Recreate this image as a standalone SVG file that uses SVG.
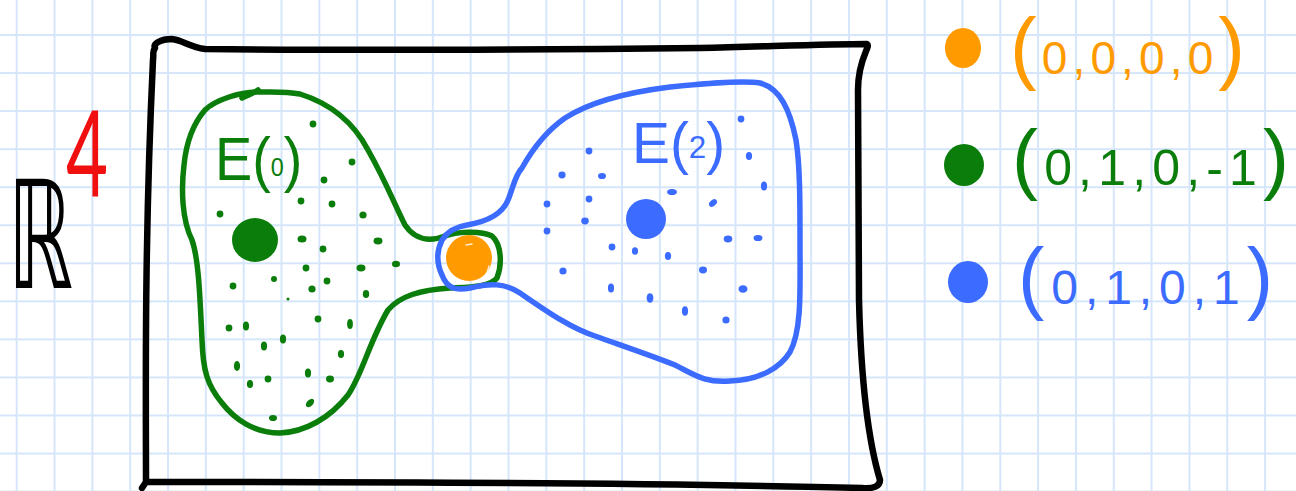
<svg xmlns="http://www.w3.org/2000/svg" width="1296" height="491" viewBox="0 0 1296 491">
<defs>
<pattern id="grid" patternUnits="userSpaceOnUse" x="15.7" y="34" width="37.83" height="38.05">
<rect x="0" y="0" width="2" height="38.05" fill="#d6e6fa"/>
<rect x="0" y="0" width="37.83" height="2" fill="#d6e6fa"/>
</pattern>
</defs>
<style>
.ink{fill:none;stroke-linecap:round;stroke-linejoin:round}
.blk{stroke:#000;stroke-width:6.5}
.grn{stroke:#0b7d0b;stroke-width:5.5}
.blu{stroke:#3b6bff;stroke-width:5.5}
.gd{fill:#0b7d0b}
.bd{fill:#3b6bff}
.hand{font-family:"Liberation Sans","DejaVu Sans",sans-serif}
</style>
<rect width="1296" height="491" fill="#fff"/>
<rect width="1296" height="491" fill="url(#grid)"/>

<g id="frame">
<path class="ink blk" d="M155,48 C153,44 160,39 172,39 C182,40 190,47 205,49 C300,50 500,50 700,48 C780,46 830,44 867,44 C871,47 858,58 858,90 L859,300 C861,380 868,440 880,480 C880,486 874,489 862,488 C700,484 400,482 146,482 C146,400 144,250 153,60 C154,52 152,52 155,48 Z M146,482 L142,488"/>
</g>

<g id="region-E0">
<path class="ink grn" d="M257,92 C240,92 215,100 205,110 C192,125 186,145 184,165 C181,190 182,220 192,240 C199,260 200,300 202,340 C203,370 207,385 222,403 C235,420 255,433 280,433 C305,432 330,418 348,395 C362,375 370,340 388,310 C400,296 420,290 450,288 C470,287 490,287 497,278 C502,265 502,245 492,236 C480,230 455,232 445,236 C430,242 415,240 405,225 C395,205 385,180 368,150 C355,125 335,105 300,94 C285,91 270,92 257,92"/>
<path class="ink grn" d="M242,98 C248,95 254,93 258,90"/>
<ellipse class="gd" cx="255" cy="240" rx="23" ry="22"/>
<g class="gd">
<circle cx="313" cy="124" r="3.4"/><circle cx="352" cy="162" r="3.4"/><circle cx="324" cy="180" r="3.4"/>
<circle cx="301" cy="201" r="3.4"/><circle cx="332" cy="204" r="3.4"/><circle cx="363" cy="215" r="3.6"/>
<circle cx="220" cy="214" r="3.4"/><ellipse cx="302" cy="239" rx="4.5" ry="3.6"/><ellipse cx="378" cy="241" rx="4.5" ry="3.4"/>
<circle cx="323" cy="249" r="3.4"/><circle cx="306" cy="268" r="3.4"/><ellipse cx="361" cy="268" rx="4.5" ry="3.4"/>
<ellipse cx="396" cy="264" rx="4" ry="3.2"/><circle cx="274" cy="279" r="3"/><circle cx="233" cy="286" r="3.4"/>
<circle cx="327" cy="281" r="3.4"/><circle cx="312" cy="289" r="3.6"/><ellipse cx="366" cy="294" rx="3.2" ry="4"/>
<circle cx="288" cy="299" r="1.5"/><circle cx="318" cy="319" r="3.4"/><ellipse cx="350" cy="324" rx="2.9" ry="5"/>
<circle cx="229" cy="328" r="3.4"/><ellipse cx="246" cy="326" rx="3.1" ry="4.5"/><ellipse cx="283" cy="339" rx="3.1" ry="4.5"/>
<ellipse cx="264" cy="346" rx="3.1" ry="4.5"/><ellipse cx="341" cy="354" rx="3.1" ry="4"/><ellipse cx="237" cy="366" rx="3.1" ry="5"/>
<ellipse cx="308" cy="373" rx="3.1" ry="4.5"/><ellipse cx="330" cy="379" rx="4" ry="3.4"/><ellipse cx="250" cy="384" rx="3.1" ry="4"/>
<circle cx="268" cy="379" r="3.4"/><ellipse cx="310" cy="403" rx="3.1" ry="5" transform="rotate(45 310 403)"/><ellipse cx="273" cy="418" rx="4" ry="3.1"/>
</g>
<text class="hand" transform="translate(215,180) scale(0.9,1)" fill="#0b7d0b"><tspan font-size="62">E(</tspan><tspan font-size="26" dy="-4">0</tspan><tspan font-size="62" dy="4">)</tspan></text>
</g>

<g id="region-E2">
<path class="ink blu" d="M467,225 C485,222 502,215 508,200 C513,188 515,175 522,168 C532,150 545,132 565,118 C590,102 630,92 670,87 C700,84 740,80 760,83 C780,88 790,110 796,140 C800,165 800,200 800,243 C800,290 802,330 790,352 C780,368 760,380 730,381 C705,383 695,375 675,365 C650,355 620,345 595,336 C570,328 545,310 520,293 C505,283 490,283 470,288 C455,291 447,288 442,275 C436,262 437,250 442,240 C447,232 455,227 467,225"/>
<circle class="bd" cx="646" cy="219" r="20"/>
<g class="bd">
<circle cx="589" cy="151" r="3.4"/><ellipse cx="562" cy="175" rx="3.6" ry="3.4"/><ellipse cx="602" cy="176" rx="4" ry="3.1"/>
<circle cx="741" cy="119" r="3.4"/><ellipse cx="749" cy="156" rx="3.1" ry="4"/><ellipse cx="764" cy="186" rx="3.1" ry="4.5"/>
<ellipse cx="672" cy="192" rx="5" ry="3.1"/><ellipse cx="713" cy="203" rx="4.5" ry="3.1" transform="rotate(-40 713 203)"/><circle cx="547" cy="204" r="3.4"/>
<circle cx="589" cy="199" r="3.4"/><ellipse cx="585" cy="221" rx="3.8" ry="3.4"/><circle cx="547" cy="231" r="3.4"/>
<ellipse cx="728" cy="239" rx="4.3" ry="3.4"/><ellipse cx="758" cy="238" rx="4.5" ry="3.1"/><circle cx="612" cy="247" r="3.4"/>
<ellipse cx="635" cy="251" rx="3.1" ry="3.8"/><ellipse cx="668" cy="256" rx="3.1" ry="4"/><circle cx="563" cy="271" r="3.6"/>
<ellipse cx="703" cy="270" rx="4" ry="3.4"/><ellipse cx="611" cy="288" rx="3.1" ry="4.5"/><ellipse cx="743" cy="289" rx="4.5" ry="3.8"/>
<ellipse cx="650" cy="298" rx="3.4" ry="4.8"/><ellipse cx="685" cy="311" rx="3.1" ry="4.8"/><circle cx="726" cy="320" r="3.6"/>
</g>
<text class="hand" transform="translate(632,163) scale(0.98,1)" fill="#3b6bff"><tspan font-size="58">E(</tspan><tspan font-size="32" dy="-5">2</tspan><tspan font-size="58" dy="5">)</tspan></text>
</g>

<g id="origin">
<circle cx="469" cy="258" r="23" fill="#ff9a00"/>
<path d="M478,281 C484,278 488,272 489,266" fill="none" stroke="#fff" stroke-width="1.5" stroke-linecap="round" opacity="0.85"/>
<path d="M466,245 L472,244" fill="none" stroke="#fff" stroke-width="1.5" stroke-linecap="round" opacity="0.8"/>
</g>

<g id="space-label">
<text x="8" y="288" font-family="DejaVu Sans, sans-serif" font-size="150" fill="#000" textLength="65" lengthAdjust="spacingAndGlyphs">ℝ</text>
<text x="66" y="197" font-family="Lato, 'Liberation Sans', sans-serif" font-weight="400" font-size="121" fill="#f01010" textLength="42" lengthAdjust="spacingAndGlyphs">4</text>
</g>

<g id="legend">
<g id="legend-orange">
<ellipse cx="963" cy="48" rx="18" ry="20" fill="#ff9a00"/>
<text class="hand" x="1010" y="74" fill="#ff9a00" textLength="235" lengthAdjust="spacing"><tspan font-size="80">(</tspan><tspan font-size="46">0,0,0,0</tspan><tspan font-size="80">)</tspan></text>
</g>
<g id="legend-green">
<ellipse cx="964" cy="165" rx="20" ry="21" fill="#0b7d0b"/>
<text class="hand" x="1012" y="185" fill="#0b7d0b" textLength="277" lengthAdjust="spacing"><tspan font-size="78">(</tspan><tspan font-size="50">0,1,0,-1</tspan><tspan font-size="78">)</tspan></text>
</g>
<g id="legend-blue">
<ellipse cx="968" cy="282" rx="20" ry="21" fill="#3b6bff"/>
<text class="hand" x="1018" y="304" fill="#3b6bff" textLength="255" lengthAdjust="spacing"><tspan font-size="79">(</tspan><tspan font-size="48">0,1,0,1</tspan><tspan font-size="79">)</tspan></text>
</g>
</g>
<g id="connectors"/>
</svg>
